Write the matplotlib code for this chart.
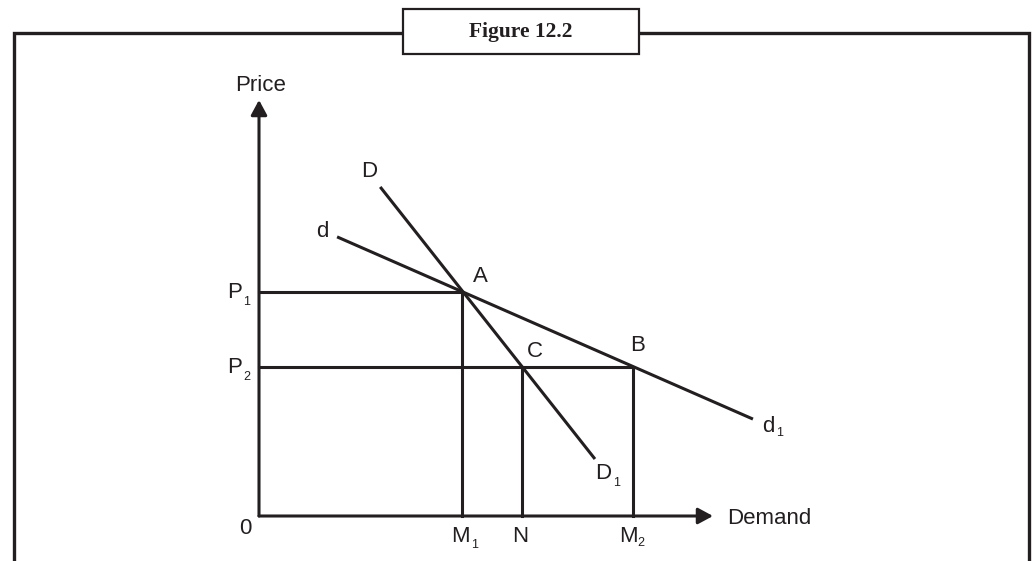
import matplotlib.pyplot as plt
from matplotlib.patches import Rectangle

# quantities on the demand axis
m1, n, m2 = 4.47, 5.79, 8.24
# price levels
p1, p2 = 5.38, 3.58
# steep demand curve D - D1 (end points)
D_x = [2.67, 7.40]
D_y = [7.91, 1.37]
# flatter demand curve d - d1 (end points)
d_x = [1.72, 10.88]
d_y = [6.71, 2.33]
# length of the two axes
x_axis_len, y_axis_len = 10.0, 10.0

ink = '#231f20'
W, H = 1032, 561
plt.rcParams['font.family'] = ['Liberation Sans', 'DejaVu Sans']

fig = plt.figure(figsize=(W / 100, H / 100), dpi=100)
ax = fig.add_axes([0, 0, 1, 1])
# origin sits at pixel (259, 516)
ax.set_xlim(-259 / 45.4, (W - 259) / 45.4)
ax.set_ylim(-(H - 516) / 41.6, 516 / 41.6)
ax.axis('off')


def fx(px):
    return px / W


def fy(py):
    return 1 - py / H


# outer frame (open at the bottom)
ax.plot([fx(14), fx(14), fx(1029), fx(1029)], [0, fy(33), fy(33), 0],
        transform=ax.transAxes, color=ink, lw=2.4, solid_joinstyle='miter',
        clip_on=False)
# title box
ax.add_patch(Rectangle((fx(403), fy(54)), fx(639) - fx(403), fy(9) - fy(54),
                       transform=ax.transAxes, facecolor='white',
                       edgecolor=ink, lw=1.6, zorder=3))
ax.text(fx(521), fy(32), 'Figure 12.2', transform=ax.transAxes,
        family='Liberation Serif', fontweight='bold', fontsize=15.5,
        ha='center', va='center', color=ink, zorder=4)

lw = 2.2
arrow = dict(arrowstyle='-|>,head_length=0.5,head_width=0.27', lw=lw,
             color=ink, shrinkA=0, shrinkB=0, mutation_scale=18)
ax.annotate('', xy=(x_axis_len, 0), xytext=(0, 0), arrowprops=arrow)
ax.annotate('', xy=(0, y_axis_len), xytext=(0, 0), arrowprops=arrow)

# demand curves
ax.plot(D_x, D_y, color=ink, lw=lw, solid_capstyle='butt')
ax.plot(d_x, d_y, color=ink, lw=lw, solid_capstyle='butt')

# guide lines
ax.plot([0, m1, m1], [p1, p1, 0], color=ink, lw=lw)
ax.plot([0, m2, m2], [p2, p2, 0], color=ink, lw=lw)
ax.plot([n, n], [0, p2], color=ink, lw=lw)


def label(x, y, s, sub=None, dx=11, dy=9, ha='center'):
    ax.text(x, y, s, ha=ha, va='center', fontsize=16, color=ink)
    if sub:
        ax.annotate(sub, (x, y), xytext=(dx * 0.72, -dy * 0.72),
                    textcoords='offset points', ha='center', va='center',
                    fontsize=9, color=ink)


label(0.04, 10.34, 'Price')
label(10.31, -0.05, 'Demand', ha='left')
label(-0.31, -0.29, '0')
label(-0.53, p1, 'P', '1', 12, 10)
label(-0.53, p2, 'P', '2', 12, 10)
label(4.43, -0.50, 'M', '1', 14, 8)
label(5.75, -0.50, 'N')
label(8.13, -0.50, 'M', '2', 13, 6)
label(2.42, 8.29, 'D')
label(1.39, 6.83, 'd')
label(4.87, 5.75, 'A')
label(8.33, 4.11, 'B')
label(6.08, 3.96, 'C')
label(7.58, 1.01, 'D', '1', 13, 9)
label(11.21, 2.16, 'd', '1', 12, 7)

fig.savefig('out.png', dpi=100)
